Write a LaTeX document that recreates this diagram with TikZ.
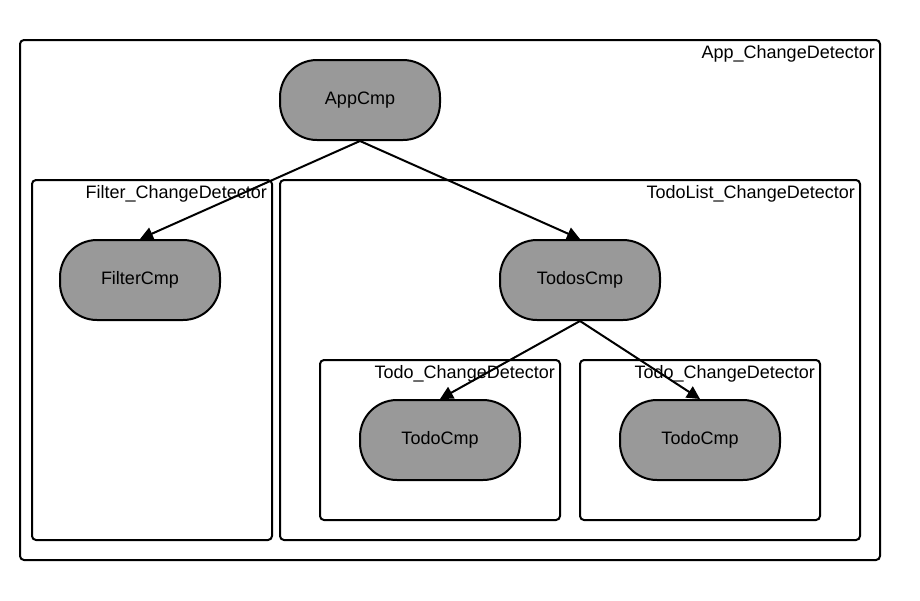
\documentclass[tikz,border=0pt]{standalone}
\usepackage{fontspec}
\setmainfont{Liberation Sans}
\usetikzlibrary{arrows.meta}
\definecolor{cmpgray}{HTML}{999999}
\begin{document}
\begin{tikzpicture}[x=1pt,y=-1pt,
  cdbox/.style={draw=black,line width=2pt,rounded corners=4pt},
  cdlabel/.style={anchor=east,inner sep=0pt,font=\fontsize{18}{20}\selectfont},
  cmp/.style={draw=black,line width=2pt,fill=cmpgray,rounded corners=37pt,minimum width=160pt,minimum height=80pt,inner sep=0pt,font=\fontsize{18}{20}\selectfont},
  link/.style={draw=black,line width=2pt,-{Triangle[length=13pt,width=13pt]}}]
\useasboundingbox (0,0) rectangle (920,600);
\fill[white] (0,0) rectangle (920,600);
% containers
\draw[cdbox] (20,40) rectangle (880,560);
\node[cdlabel] (lapp) at (875,54) {App\_ChangeDetector};
\draw[cdbox] (32,180) rectangle (272,540);
\node[cdlabel] (lfil) at (267,194) {Filter\_ChangeDetector};
\draw[cdbox] (280,180) rectangle (860,540);
\node[cdlabel] (llist) at (855,194) {TodoList\_ChangeDetector};
\draw[cdbox] (320,360) rectangle (560,520);
\node[cdlabel] (ltodoa) at (555,374) {Todo\_ChangeDetector};
\draw[cdbox] (580,360) rectangle (820,520);
\node[cdlabel] (ltodob) at (815,374) {Todo\_ChangeDetector};
% components
\node[cmp] (app) at (360,100) {AppCmp};
\node[cmp] (filter) at (140,280) {FilterCmp};
\node[cmp] (todos) at (580,280) {TodosCmp};
\node[cmp] (todoa) at (440,440) {TodoCmp};
\node[cmp] (todob) at (700,440) {TodoCmp};
% connectors
\draw[link] (app.south) -- (filter.north);
\draw[link] (app.south) -- (todos.north);
\draw[link] (todos.south) -- (todoa.north);
\draw[link] (todos.south) -- (todob.north);
\end{tikzpicture}
\end{document}
